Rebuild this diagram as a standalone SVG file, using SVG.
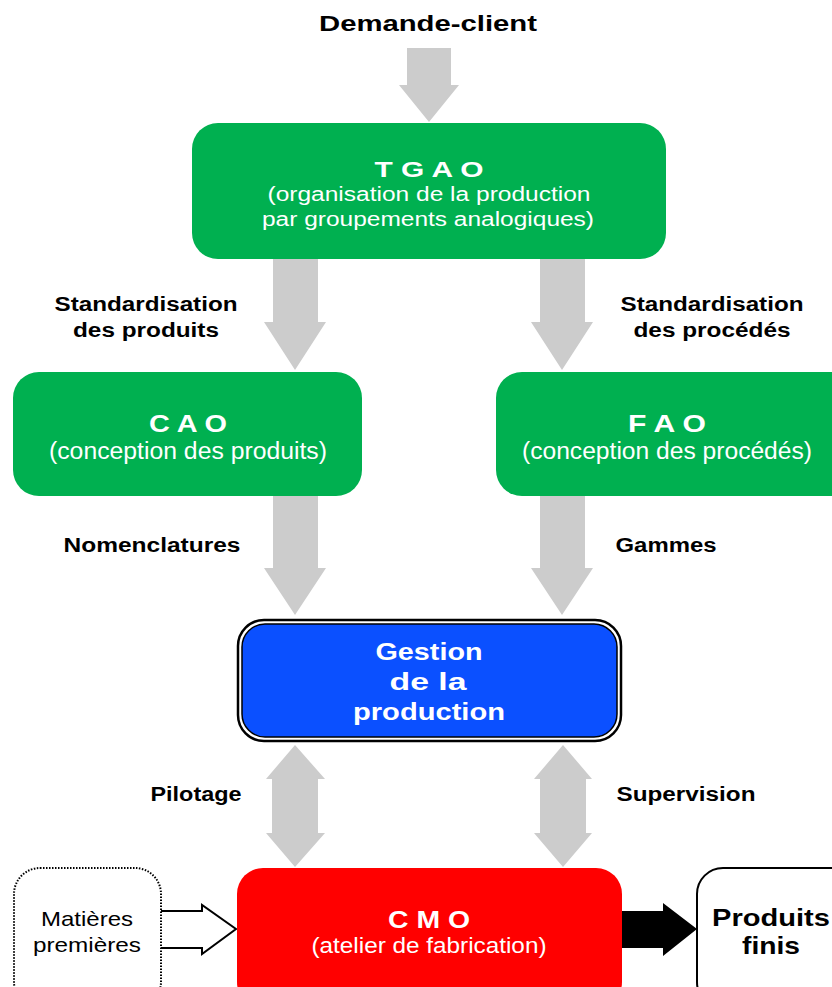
<svg xmlns="http://www.w3.org/2000/svg" width="832" height="987" viewBox="0 0 832 987">
<style>
.lbl{font-family:"Liberation Sans",Arial,sans-serif;font-weight:bold;font-size:20px;fill:#000;text-anchor:middle}
.wt{font-family:"Liberation Sans",Arial,sans-serif;fill:#fff;text-anchor:middle}
.bt{font-family:"Liberation Sans",Arial,sans-serif;fill:#000;text-anchor:middle}
.big{fill:#cccccc}
.green{fill:#00B050}
</style>
<rect width="832" height="987" fill="#fff"/>
<g id="connectors">
  <polygon class="big" points="407,48 451,48 451,85 459,85 429,122 399,85 407,85"/>
  <polygon class="big" points="273,259 318,259 318,322 326,322 295,370 264,322 273,322"/>
  <polygon class="big" points="540,259 585,259 585,322 593,322 562,370 531,322 540,322"/>
  <polygon class="big" points="273,496 318,496 318,568 326,568 295,615 264,568 273,568"/>
  <polygon class="big" points="540,496 585,496 585,568 593,568 562,615 531,568 540,568"/>
  <polygon class="big" points="295,745 325,779 318,779 318,833 325,833 295,867 266,833 272,833 272,779 266,779"/>
  <polygon class="big" points="563,745 592,779 586,779 586,833 592,833 563,867 534,833 540,833 540,779 534,779"/>
  <path d="M161,911 L202,911 L202,905 L236,929 L202,954 L202,948 L161,948" fill="#fff" stroke="#000" stroke-width="2"/>
  <polygon points="622,911 663,911 663,903 697,929 663,956 663,948 622,948" fill="#000"/>
</g>
<g id="demande">
  <text class="lbl" x="428" y="31" style="font-size:22px" textLength="218" lengthAdjust="spacingAndGlyphs">Demande-client</text>
</g>
<g id="tgao">
  <rect class="green" x="192" y="123" width="474" height="136" rx="26"/>
  <text class="wt" x="429" y="177" font-weight="bold" font-size="22" textLength="109" lengthAdjust="spacingAndGlyphs">T G A O</text>
  <text class="wt" x="429" y="201" font-size="20" textLength="323" lengthAdjust="spacingAndGlyphs">(organisation de la production</text>
  <text class="wt" x="428" y="226" font-size="20" textLength="332" lengthAdjust="spacingAndGlyphs">par groupements analogiques)</text>
</g>
<g id="labels">
  <text class="lbl" x="146" y="311" textLength="183" lengthAdjust="spacingAndGlyphs">Standardisation</text>
  <text class="lbl" x="146" y="337" textLength="146" lengthAdjust="spacingAndGlyphs">des produits</text>
  <text class="lbl" x="712" y="311" textLength="183" lengthAdjust="spacingAndGlyphs">Standardisation</text>
  <text class="lbl" x="712" y="337" textLength="157" lengthAdjust="spacingAndGlyphs">des procédés</text>
  <text class="lbl" x="152" y="552" textLength="177" lengthAdjust="spacingAndGlyphs">Nomenclatures</text>
  <text class="lbl" x="666" y="552" textLength="101" lengthAdjust="spacingAndGlyphs">Gammes</text>
  <text class="lbl" x="196" y="801" textLength="91" lengthAdjust="spacingAndGlyphs">Pilotage</text>
  <text class="lbl" x="686" y="801" textLength="139" lengthAdjust="spacingAndGlyphs">Supervision</text>
</g>
<g id="cao">
  <rect class="green" x="13" y="372" width="349" height="124" rx="26"/>
  <text class="wt" x="188" y="432" font-weight="bold" font-size="24" textLength="78" lengthAdjust="spacingAndGlyphs">C A O</text>
  <text class="wt" x="188" y="459" font-size="23" textLength="278" lengthAdjust="spacingAndGlyphs">(conception des produits)</text>
</g>
<g id="fao">
  <rect class="green" x="496" y="372" width="360" height="124" rx="26"/>
  <text class="wt" x="667" y="432" font-weight="bold" font-size="24" textLength="78" lengthAdjust="spacingAndGlyphs">F A O</text>
  <text class="wt" x="667" y="459" font-size="23" textLength="290" lengthAdjust="spacingAndGlyphs">(conception des procédés)</text>
</g>
<g id="gestion">
  <rect x="238" y="620" width="383" height="121" rx="26" fill="#fff" stroke="#000" stroke-width="2.5"/>
  <rect x="242" y="624" width="375" height="113" rx="23" fill="#0B50FF" stroke="#000" stroke-width="1.5"/>
  <text class="wt" x="429" y="660" font-weight="bold" font-size="24" textLength="107" lengthAdjust="spacingAndGlyphs">Gestion</text>
  <text class="wt" x="428" y="690" font-weight="bold" font-size="24" textLength="77" lengthAdjust="spacingAndGlyphs">de la</text>
  <text class="wt" x="429" y="720" font-weight="bold" font-size="24" textLength="152" lengthAdjust="spacingAndGlyphs">production</text>
</g>
<g id="matieres">
  <rect x="14" y="868" width="147" height="140" rx="26" fill="#fff" stroke="#000" stroke-width="2" stroke-dasharray="1.5,1.5"/>
  <text class="bt" x="87" y="926" font-size="21" textLength="92" lengthAdjust="spacingAndGlyphs">Matières</text>
  <text class="bt" x="87" y="952" font-size="21" textLength="108" lengthAdjust="spacingAndGlyphs">premières</text>
</g>
<g id="cmo">
  <rect x="237" y="868" width="385" height="140" rx="26" fill="#FF0000"/>
  <text class="wt" x="429" y="928" font-weight="bold" font-size="24" textLength="82" lengthAdjust="spacingAndGlyphs">C M O</text>
  <text class="wt" x="429" y="953" font-size="22" textLength="235" lengthAdjust="spacingAndGlyphs">(atelier de fabrication)</text>
</g>
<g id="produits">
  <rect x="697" y="868" width="160" height="140" rx="26" fill="#fff" stroke="#000" stroke-width="2"/>
  <text class="bt" x="771" y="926" font-weight="bold" font-size="24" textLength="118" lengthAdjust="spacingAndGlyphs">Produits</text>
  <text class="bt" x="771" y="954" font-weight="bold" font-size="24" textLength="58" lengthAdjust="spacingAndGlyphs">finis</text>
</g>
</svg>
